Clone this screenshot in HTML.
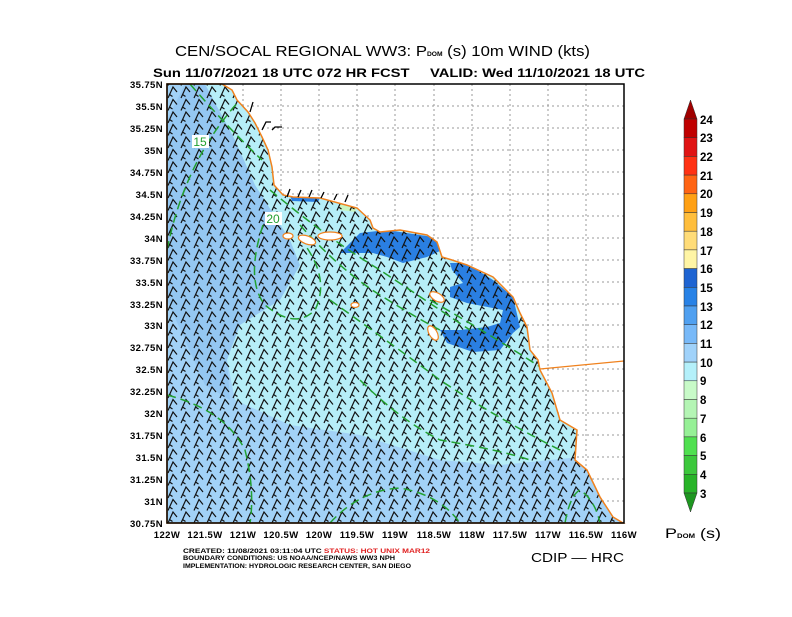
<!DOCTYPE html>
<html><head><meta charset="utf-8"><style>
body{margin:0;background:#fff;width:792px;height:612px;overflow:hidden;font-family:"Liberation Sans",sans-serif}
</style></head><body>
<svg width="792" height="612" viewBox="0 0 792 612" xmlns="http://www.w3.org/2000/svg" font-family="Liberation Sans, sans-serif">
<defs>
<pattern id="barb" x="167" y="86" width="13" height="12.5" patternUnits="userSpaceOnUse">
<path d="M1,12 L6,1 L10,6 M2.5,8.5 L5.5,10.5" stroke="#111" stroke-width="1.2" fill="none"/>
</pattern>
<clipPath id="oc"><polygon id="ocp" points="167,84 222,84 232,90 237,100 248,112 255,123 262,137 268,150 272,167 274,185 283,195 293,197 320,198 357,208 370,220 373,228 380,232 400,230 427,235 437,242 442,257 452,260 467,265 493,277 513,297 520,313 527,327 530,350 538,360 540,370 552,393 560,420 577,430 575,460 587,470 600,497 613,517 623,523 167,523"/></clipPath>
</defs>
<g stroke="#999" stroke-dasharray="2,3" stroke-width="1">
<line x1="205" y1="84" x2="205" y2="523"/><line x1="243" y1="84" x2="243" y2="523"/><line x1="281" y1="84" x2="281" y2="523"/><line x1="319" y1="84" x2="319" y2="523"/><line x1="357" y1="84" x2="357" y2="523"/><line x1="395" y1="84" x2="395" y2="523"/><line x1="434" y1="84" x2="434" y2="523"/><line x1="472" y1="84" x2="472" y2="523"/><line x1="510" y1="84" x2="510" y2="523"/><line x1="548" y1="84" x2="548" y2="523"/><line x1="586" y1="84" x2="586" y2="523"/>
<line x1="167" y1="106" x2="624" y2="106"/><line x1="167" y1="128" x2="624" y2="128"/><line x1="167" y1="150" x2="624" y2="150"/><line x1="167" y1="172" x2="624" y2="172"/><line x1="167" y1="194" x2="624" y2="194"/><line x1="167" y1="216" x2="624" y2="216"/><line x1="167" y1="238" x2="624" y2="238"/><line x1="167" y1="260" x2="624" y2="260"/><line x1="167" y1="282" x2="624" y2="282"/><line x1="167" y1="304" x2="624" y2="304"/><line x1="167" y1="325" x2="624" y2="325"/><line x1="167" y1="347" x2="624" y2="347"/><line x1="167" y1="369" x2="624" y2="369"/><line x1="167" y1="391" x2="624" y2="391"/><line x1="167" y1="413" x2="624" y2="413"/><line x1="167" y1="435" x2="624" y2="435"/><line x1="167" y1="457" x2="624" y2="457"/><line x1="167" y1="479" x2="624" y2="479"/><line x1="167" y1="501" x2="624" y2="501"/>
</g>
<g clip-path="url(#oc)">
<rect x="167" y="84" width="457" height="440" fill="#a2d2f7"/>
<polygon points="185,84 205,84 235,140 255,185 290,240 300,265 280,300 240,325 227,360 230,400 205,385 185,340 167,300 167,120" fill="#94c7f2"/>
<polygon points="205,84 300,84 600,380 600,460 580,457 500,465 440,460 360,435 290,425 235,400 227,360 240,325 280,300 300,265 290,240 255,185 235,140" fill="#b6eef8"/>
<polygon points="340,253 360,233 387,230 433,237 442,250 427,257 403,263 387,257 373,253" fill="#2a7fe2"/>
<polygon points="450,263 467,263 477,270 493,280 513,297 520,327 513,333 500,350 473,352 447,343 440,330 460,330 487,327 500,323 503,310 467,303 450,297 450,287 463,283 452,270" fill="#2a7fe2"/>
<polygon points="290,196 320,198 318,202 292,201" fill="#2a7fe2"/>
<polygon points="340,203 357,208 355,212 340,210" fill="#c8f5c0"/>
<rect x="167" y="84" width="457" height="440" fill="url(#barb)"/>
<g stroke="#22a030" stroke-width="1.5" fill="none" stroke-dasharray="9,5">
<path d="M167,250 Q185,160 240,100"/>
<path d="M190,84 Q230,130 262,160"/>
<path d="M263,225 Q245,280 265,305 Q295,330 315,310 Q330,280 305,245"/>
<path d="M270,190 Q330,240 380,270 Q440,310 470,330"/>
<path d="M300,225 Q340,270 380,295 Q420,320 440,330"/>
<path d="M330,300 Q400,350 440,380 Q500,420 560,450"/>
<path d="M360,380 Q400,420 440,440 Q500,450 530,460"/>
<path d="M430,300 Q500,340 560,380 Q590,400 600,420"/>
<path d="M167,395 Q225,410 245,450 Q255,490 250,523"/>
<path d="M330,523 Q360,490 400,488 Q440,495 460,523"/>
<path d="M565,523 Q570,495 580,490 Q595,500 600,523"/>
</g>
</g>
<use href="#ocp" fill="none" stroke="#f0821e" stroke-width="1.5"/>
<line x1="540" y1="369" x2="624" y2="361" stroke="#f0821e" stroke-width="1.2"/>
<g fill="#fff" stroke="#f0821e" stroke-width="1.2">
<ellipse cx="330" cy="236" rx="12" ry="4"/><ellipse cx="307" cy="240" rx="9" ry="4" transform="rotate(20 307 240)"/><ellipse cx="288" cy="236" rx="5" ry="3"/>
<ellipse cx="437" cy="297" rx="8" ry="4" transform="rotate(30 437 297)"/><ellipse cx="433" cy="333" rx="4" ry="8" transform="rotate(-30 433 333)"/><ellipse cx="355" cy="305" rx="4" ry="2.5"/>
</g>
<g stroke="#000" stroke-width="1.3" fill="none">
<path d="M250,112 l3,-10 M262,130 l4,-8 l5,0 M272,130 l3,-3 l7,0"/>
<path d="M287,197 l3,-8 M298,197 l3,-7 M309,197 l3,-7 M321,198 l3,-6 M334,200 l3,-6 M345,202 l3,-7"/>
</g>
<rect x="167" y="84" width="457" height="439" fill="none" stroke="#000" stroke-width="1.5"/>
<text x="175" y="56" font-size="15" textLength="415" lengthAdjust="spacingAndGlyphs">CEN/SOCAL REGIONAL WW3: P<tspan font-size="6" font-weight="bold">DOM</tspan> (s) 10m WIND (kts)</text>
<text x="153" y="77" font-size="12" font-weight="bold" textLength="492" lengthAdjust="spacingAndGlyphs" xml:space="preserve">Sun 11/07/2021 18 UTC 072 HR FCST     VALID: Wed 11/10/2021 18 UTC</text>
<g font-size="9.5" font-weight="bold" text-anchor="end" letter-spacing="0.4">
<text x="163" y="88">35.75N</text><text x="163" y="110">35.5N</text><text x="163" y="132">35.25N</text><text x="163" y="154">35N</text><text x="163" y="176">34.75N</text><text x="163" y="198">34.5N</text><text x="163" y="220">34.25N</text><text x="163" y="242">34N</text><text x="163" y="264">33.75N</text><text x="163" y="286">33.5N</text><text x="163" y="308">33.25N</text><text x="163" y="329">33N</text><text x="163" y="351">32.75N</text><text x="163" y="373">32.5N</text><text x="163" y="395">32.25N</text><text x="163" y="417">32N</text><text x="163" y="439">31.75N</text><text x="163" y="461">31.5N</text><text x="163" y="483">31.25N</text><text x="163" y="505">31N</text><text x="163" y="527">30.75N</text>
</g>
<g font-size="9.5" font-weight="bold" text-anchor="middle" letter-spacing="0.4">
<text x="167" y="538">122W</text><text x="205" y="538">121.5W</text><text x="243" y="538">121W</text><text x="281" y="538">120.5W</text><text x="319" y="538">120W</text><text x="357" y="538">119.5W</text><text x="395" y="538">119W</text><text x="434" y="538">118.5W</text><text x="472" y="538">118W</text><text x="510" y="538">117.5W</text><text x="548" y="538">117W</text><text x="586" y="538">116.5W</text><text x="624" y="538">116W</text>
</g>
<rect x="192" y="135" width="17" height="13" fill="#fff"/><text x="200" y="146" font-size="12" fill="#22a030" text-anchor="middle">15</text>
<rect x="265" y="212" width="17" height="13" fill="#fff"/><text x="273" y="223" font-size="12" fill="#22a030" text-anchor="middle">20</text>
<g stroke="#333" stroke-width="0.5">
<polygon points="684,119 697,119 690.5,100" fill="#a00000"/>
<rect x="684" y="119" width="13" height="18.7" fill="#c00000"/>
<rect x="684" y="137.7" width="13" height="18.7" fill="#e01414"/>
<rect x="684" y="156.4" width="13" height="18.7" fill="#ff3214"/>
<rect x="684" y="175.1" width="13" height="18.7" fill="#ff6414"/>
<rect x="684" y="193.8" width="13" height="18.7" fill="#ffa014"/>
<rect x="684" y="212.5" width="13" height="18.7" fill="#ffbe3c"/>
<rect x="684" y="231.2" width="13" height="18.7" fill="#ffdc78"/>
<rect x="684" y="249.9" width="13" height="18.7" fill="#fff5a5"/>
<rect x="684" y="268.6" width="13" height="18.7" fill="#1e64d2"/>
<rect x="684" y="287.3" width="13" height="18.7" fill="#2882e6"/>
<rect x="684" y="306" width="13" height="18.7" fill="#50a0f0"/>
<rect x="684" y="324.7" width="13" height="18.7" fill="#78b9f8"/>
<rect x="684" y="343.4" width="13" height="18.7" fill="#a0d2fa"/>
<rect x="684" y="362.1" width="13" height="18.7" fill="#b4f0fa"/>
<rect x="684" y="380.8" width="13" height="18.7" fill="#c8fac8"/>
<rect x="684" y="399.5" width="13" height="18.7" fill="#b4f5b4"/>
<rect x="684" y="418.2" width="13" height="18.7" fill="#96f096"/>
<rect x="684" y="436.9" width="13" height="18.7" fill="#50e050"/>
<rect x="684" y="455.6" width="13" height="18.7" fill="#3cc83c"/>
<rect x="684" y="474.3" width="13" height="18.7" fill="#28b428"/>
<polygon points="684,493 697,493 690.5,512" fill="#1e9620"/>
</g>
<g font-size="11.5" font-weight="bold">
<text x="700" y="124">24</text><text x="700" y="142">23</text><text x="700" y="161">22</text><text x="700" y="180">21</text><text x="700" y="198">20</text><text x="700" y="217">19</text><text x="700" y="236">18</text><text x="700" y="255">17</text><text x="700" y="273">16</text><text x="700" y="292">15</text><text x="700" y="311">13</text><text x="700" y="329">12</text><text x="700" y="348">11</text><text x="700" y="367">10</text><text x="700" y="385">9</text><text x="700" y="404">8</text><text x="700" y="423">7</text><text x="700" y="442">6</text><text x="700" y="460">5</text><text x="700" y="479">4</text><text x="700" y="498">3</text>
</g>
<text x="665" y="538" font-size="14" textLength="56" lengthAdjust="spacingAndGlyphs">P<tspan font-size="6" font-weight="bold">DOM</tspan> (s)</text>
<g font-size="6" font-weight="bold">
<text x="183" y="553" textLength="247" lengthAdjust="spacingAndGlyphs">CREATED: 11/08/2021 03:11:04 UTC <tspan fill="#e02020">STATUS: HOT UNIX MAR12</tspan></text>
<text x="183" y="560" textLength="212" lengthAdjust="spacingAndGlyphs">BOUNDARY CONDITIONS: US NOAA/NCEP/NAWS WW3 NPH</text>
<text x="183" y="568" textLength="228" lengthAdjust="spacingAndGlyphs">IMPLEMENTATION: HYDROLOGIC RESEARCH CENTER, SAN DIEGO</text>
</g>
<text x="531" y="562" font-size="13" textLength="93" lengthAdjust="spacingAndGlyphs">CDIP — HRC</text>
</svg>
</body></html>
